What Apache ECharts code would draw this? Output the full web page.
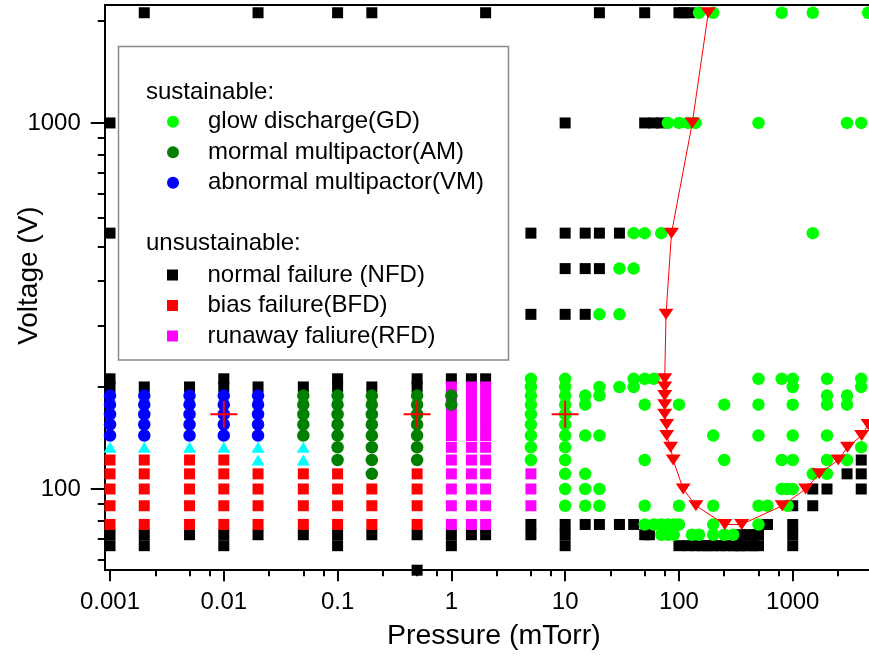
<!DOCTYPE html>
<html><head><meta charset="utf-8">
<script src="https://cdn.jsdelivr.net/npm/echarts@6/dist/echarts.min.js"></script>
<style>html,body{margin:0;padding:0;background:#fff}#c{width:869px;height:658px}</style>
</head><body><div id="c"></div><script>
// ---------- axis ticks ----------
const pressureTicks = [0.001, 0.01, 0.1, 1, 10, 100, 1000];
const pressureTickLabels = ['0.001', '0.01', '0.1', '1', '10', '100', '1000'];
const pressureMinorTicks = [0.0025, 0.005, 0.0075, 0.025, 0.05, 0.075, 0.25, 0.5, 0.75, 2.5, 5, 7.5, 25, 50, 75, 250, 500, 750, 2500];
const voltageTicks = [100, 1000];
const voltageTickLabels = ['100', '1000'];
const voltageMinorTicks = [64, 73, 82, 91, 190, 280, 370, 460, 550, 640, 730, 820, 910, 1900];

// ---------- data: [pressure (mTorr), [voltages (V)]] per column ----------
const gdColumns = [
  [5, [200, 190, 180, 170, 160, 150, 140, 130, 120]],
  [10, [200, 190, 180, 170, 160, 150, 140, 130, 120, 110, 100, 90]],
  [15, [180, 170, 140, 110, 100, 90]],
  [20, [300, 190, 180, 140, 100, 90]],
  [30, [400, 300, 190]],
  [40, [500, 400, 200, 190]],
  [50, [500, 200, 170, 120, 90, 80]],
  [60, [200, 80]],
  [70, [500, 80, 75]],
  [80, [1000, 80, 75]],
  [90, [80, 75]],
  [100, [1000, 170, 90, 80]],
  [120, [1000]],
  [130, [75]],
  [140, [1000]],
  [150, [2000, 75]],
  [200, [2000, 140, 90, 80, 75]],
  [250, [170, 120, 75]],
  [300, [75]],
  [500, [1000, 200, 170, 140, 90, 80]],
  [600, [90]],
  [800, [2000, 200, 120, 100]],
  [900, [100, 90]],
  [1000, [200, 190, 170, 140, 120, 100]],
  [1500, [2000, 500, 110]],
  [2000, [200, 180, 170, 140, 120, 110]],
  [3000, [1000, 180, 170, 120]],
  [4000, [1000, 200, 190, 130]],
  [4600, [2000]]
];
const amColumns = [
  [0.05, [180, 170, 160, 150, 140]],
  [0.1, [180, 170, 160, 150, 140, 130, 120]],
  [0.2, [180, 170, 160, 150, 140, 130, 120, 110]],
  [0.5, [180, 170, 160, 150, 140, 130, 120]],
  [1, [180, 170]]
];
const vmColumns = [
  [0.001, [180, 170, 160, 150, 140]],
  [0.002, [180, 170, 160, 150, 140]],
  [0.005, [180, 170, 160, 150, 140]],
  [0.01, [180, 170, 160, 150, 140]],
  [0.02, [180, 170, 160, 150, 140]]
];
const nfdColumns = [
  [0.001, [1000, 500, 200, 190, 75, 70]],
  [0.002, [2000, 190, 75, 70]],
  [0.005, [190, 75]],
  [0.01, [200, 190, 75, 70]],
  [0.02, [2000, 190, 75]],
  [0.05, [190, 75]],
  [0.1, [2000, 200, 190, 75, 70]],
  [0.2, [2000, 190, 75]],
  [0.5, [200, 190, 75, 60]],
  [1, [200, 75, 70]],
  [1.5, [200, 75]],
  [2, [2000, 200, 75]],
  [5, [500, 300, 80, 75]],
  [10, [1000, 500, 400, 300, 80, 75, 70]],
  [15, [500, 400, 300, 80]],
  [20, [2000, 500, 400, 80]],
  [30, [500, 80]],
  [40, [80]],
  [50, [2000, 1000, 75]],
  [55, [75]],
  [60, [1000]],
  [70, [1000]],
  [100, [2000, 70]],
  [110, [2000]],
  [125, [2000]],
  [120, [70]], [140, [70]], [160, [70]], [180, [70]], [200, [70]],
  [230, [70]], [260, [70]], [300, [70]], [330, [70]],
  [350, [75, 70]], [400, [75, 70]], [450, [75, 70]], [500, [75, 70]],
  [600, [80]],
  [1000, [90, 80, 75, 70]],
  [1500, [100, 90]],
  [2000, [100]],
  [3000, [110]],
  [4000, [120, 110, 100]]
];
const bfdColumns = [
  [0.001, [120, 110, 100, 90, 80]],
  [0.002, [120, 110, 100, 90, 80]],
  [0.005, [120, 110, 100, 90, 80]],
  [0.01, [120, 110, 100, 90, 80]],
  [0.02, [110, 100, 90, 80]],
  [0.05, [110, 100, 90, 80]],
  [0.1, [110, 100, 90, 80]],
  [0.2, [100, 90, 80]],
  [0.5, [110, 100, 90, 80]]
];
const rfdColumns = [
  [1, [190, 180, 170, 160, 150, 140, 130, 120, 110, 100, 90, 80]],
  [1.5, [190, 180, 170, 160, 150, 140, 130, 120, 110, 100, 90, 80]],
  [2, [190, 180, 170, 160, 150, 140, 130, 120, 110, 100, 90, 80]],
  [5, [110, 100, 90]]
];
const transitionColumns = [
  [0.001, [130]], [0.002, [130]], [0.005, [130]], [0.01, [130]],
  [0.02, [130, 120]], [0.05, [130, 120]]
];
const boundaryPoints = [
  [181, 2000], [131, 1000], [86, 500], [77, 300], [75, 200], [75, 190], [75, 180],
  [75, 170], [75, 160], [78, 150], [78, 140], [84.5, 130], [89, 120], [109, 100],
  [141, 90], [253, 80], [356, 80], [807, 90], [1300, 100], [1709, 110], [2512, 120],
  [3030, 130], [4030, 140], [4600, 150]
];
const crossPoints = [[0.01, 160], [0.5, 160], [10, 160]];

const expand = cols => cols.flatMap(([p, vs]) => vs.map(v => [p, v]));

const FONT = '"Liberation Sans", Arial, Helvetica, sans-serif';
const XMIN = 0.0009, XMAX = 4680, YMIN = 60, YMAX = 2100;

function labelFrom(ticks, labels) {
  return v => {
    const i = ticks.findIndex(t => Math.abs(Math.log10(t) - Math.log10(v)) < 1e-6);
    return i >= 0 ? labels[i] : '';
  };
}
const baseLog = (min, max) => ({type: 'log', logBase: 10, min, max, splitLine: {show: false}, minorTick: {show: false}, minorSplitLine: {show: false}});
const solid = color => ({color, opacity: 1});

const chart = echarts.init(document.getElementById('c'), null, {renderer: 'canvas', width: 869, height: 658});
chart.setOption({
  animation: false,
  backgroundColor: '#fff',
  grid: {left: 104.8, right: 0, top: 5, bottom: 87.8, containLabel: false, outerBoundsMode: 'none', show: false},
  title: [
    {text: 'sustainable:', left: 146, top: 80.3, padding: 0,
     textStyle: {fontSize: 24, lineHeight: 24, fontWeight: 'normal', color: '#000', fontFamily: FONT}},
    {text: 'unsustainable:', left: 146, top: 231.3, padding: 0,
     textStyle: {fontSize: 24, lineHeight: 24, fontWeight: 'normal', color: '#000', fontFamily: FONT}}
  ],
  legend: [
    {data: [{name: 'glow discharge(GD)', icon: 'circle'}, {name: 'mormal multipactor(AM)', icon: 'circle'}, {name: 'abnormal multipactor(VM)', icon: 'circle'}],
     orient: 'vertical', left: 167, top: 109.7, padding: 0, itemWidth: 60, itemHeight: 12, itemGap: 6.5,
     selectedMode: false, textStyle: {fontSize: 24, lineHeight: 24, color: '#000', fontFamily: FONT}},
    {data: [{name: 'normal failure (NFD)', icon: 'path://M0,0H1V1H0Z'}, {name: 'bias failure(BFD)', icon: 'path://M0,0H1V1H0Z'}, {name: 'runaway faliure(RFD)', icon: 'path://M0,0H1V1H0Z'}],
     orient: 'vertical', left: 167, top: 263, padding: 0, itemWidth: 60, itemHeight: 11, itemGap: 6.5,
     selectedMode: false, textStyle: {fontSize: 24, lineHeight: 24, color: '#000', fontFamily: FONT}}
  ],
  graphic: [
    {type: 'rect', shape: {x: 118.5, y: 46.5, width: 390, height: 313.5}, style: {fill: 'none', stroke: '#8a8a8a', lineWidth: 1.5}, z: 100, silent: true}
  ],
  xAxis: [
    Object.assign(baseLog(XMIN, XMAX), {position: 'bottom',
      axisLine: {show: true, onZero: false, lineStyle: {color: '#000', width: 2}},
      axisTick: {show: true, inside: false, length: 11, customValues: pressureTicks, lineStyle: {color: '#000', width: 2}},
      axisLabel: {show: true, customValues: pressureTicks, formatter: labelFrom(pressureTicks, pressureTickLabels), margin: 20, fontSize: 24, color: '#000', fontFamily: FONT},
      name: 'Pressure (mTorr)', nameLocation: 'middle', nameGap: 52, nameMoveOverlap: false,
      nameTextStyle: {fontSize: 28.5, lineHeight: 28, color: '#000', fontFamily: FONT, padding: [0, 0, 0, 14]}}),
    Object.assign(baseLog(XMIN, XMAX), {position: 'bottom',
      axisLine: {show: false, onZero: false},
      axisTick: {show: true, inside: false, length: 6, customValues: pressureMinorTicks, lineStyle: {color: '#000', width: 2}},
      axisLabel: {show: false}}),
    Object.assign(baseLog(XMIN, XMAX), {position: 'top',
      axisLine: {show: true, onZero: false, lineStyle: {color: '#000', width: 2}},
      axisTick: {show: false}, axisLabel: {show: false}})
  ],
  yAxis: [
    Object.assign(baseLog(YMIN, YMAX), {position: 'left',
      axisLine: {show: true, onZero: false, lineStyle: {color: '#000', width: 2}},
      axisTick: {show: true, inside: false, length: 14, customValues: voltageTicks, lineStyle: {color: '#000', width: 2}},
      axisLabel: {show: true, customValues: voltageTicks, formatter: labelFrom(voltageTicks, voltageTickLabels), margin: 24, fontSize: 24, color: '#000', fontFamily: FONT},
      name: 'Voltage (V)', nameLocation: 'middle', nameGap: 62, nameMoveOverlap: false,
      nameTextStyle: {fontSize: 28, lineHeight: 28, color: '#000', fontFamily: FONT, padding: [0, 0, 0, 24]}}),
    Object.assign(baseLog(YMIN, YMAX), {position: 'left',
      axisLine: {show: false, onZero: false},
      axisTick: {show: true, inside: false, length: 7, customValues: voltageMinorTicks, lineStyle: {color: '#000', width: 2}},
      axisLabel: {show: false}})
  ],
  series: [
    {type: 'scatter', name: 'normal failure (NFD)', data: expand(nfdColumns), symbol: 'rect', symbolSize: 11, itemStyle: solid('#000000'), silent: true},
    {type: 'scatter', name: 'bias failure(BFD)', data: expand(bfdColumns), symbol: 'rect', symbolSize: 11, itemStyle: solid('#ff0000'), silent: true},
    {type: 'scatter', name: 'runaway faliure(RFD)', data: expand(rfdColumns), symbol: 'rect', symbolSize: 11, itemStyle: solid('#ff00ff'), silent: true},
    {type: 'scatter', name: 'glow discharge(GD)', data: expand(gdColumns), symbol: 'circle', symbolSize: 12.5, itemStyle: solid('#00ff00'), silent: true},
    {type: 'scatter', name: 'mormal multipactor(AM)', data: expand(amColumns), symbol: 'circle', symbolSize: 12.5, itemStyle: solid('#008000'), silent: true},
    {type: 'scatter', name: 'abnormal multipactor(VM)', data: expand(vmColumns), symbol: 'circle', symbolSize: 12.5, itemStyle: solid('#0000ff'), silent: true},
    {type: 'scatter', name: 'transition', data: expand(transitionColumns), symbol: 'triangle', symbolSize: [13, 11], itemStyle: solid('#00ffff'), silent: true},
    {type: 'line', name: 'boundary', data: boundaryPoints, symbol: 'triangle', symbolRotate: 180, symbolSize: [15, 11], showAllSymbol: true,
     lineStyle: {color: '#ff0000', width: 1, opacity: 1}, itemStyle: solid('#ff0000'), silent: true, z: 3},
    {type: 'scatter', name: 'cross', data: crossPoints, symbol: 'path://M10,0L10,20M0,10L20,10', symbolSize: 27,
     itemStyle: {color: 'rgba(0,0,0,0)', borderColor: '#ff0000', borderWidth: 2, opacity: 1}, silent: true, z: 4}
  ]
});
</script></body></html>
